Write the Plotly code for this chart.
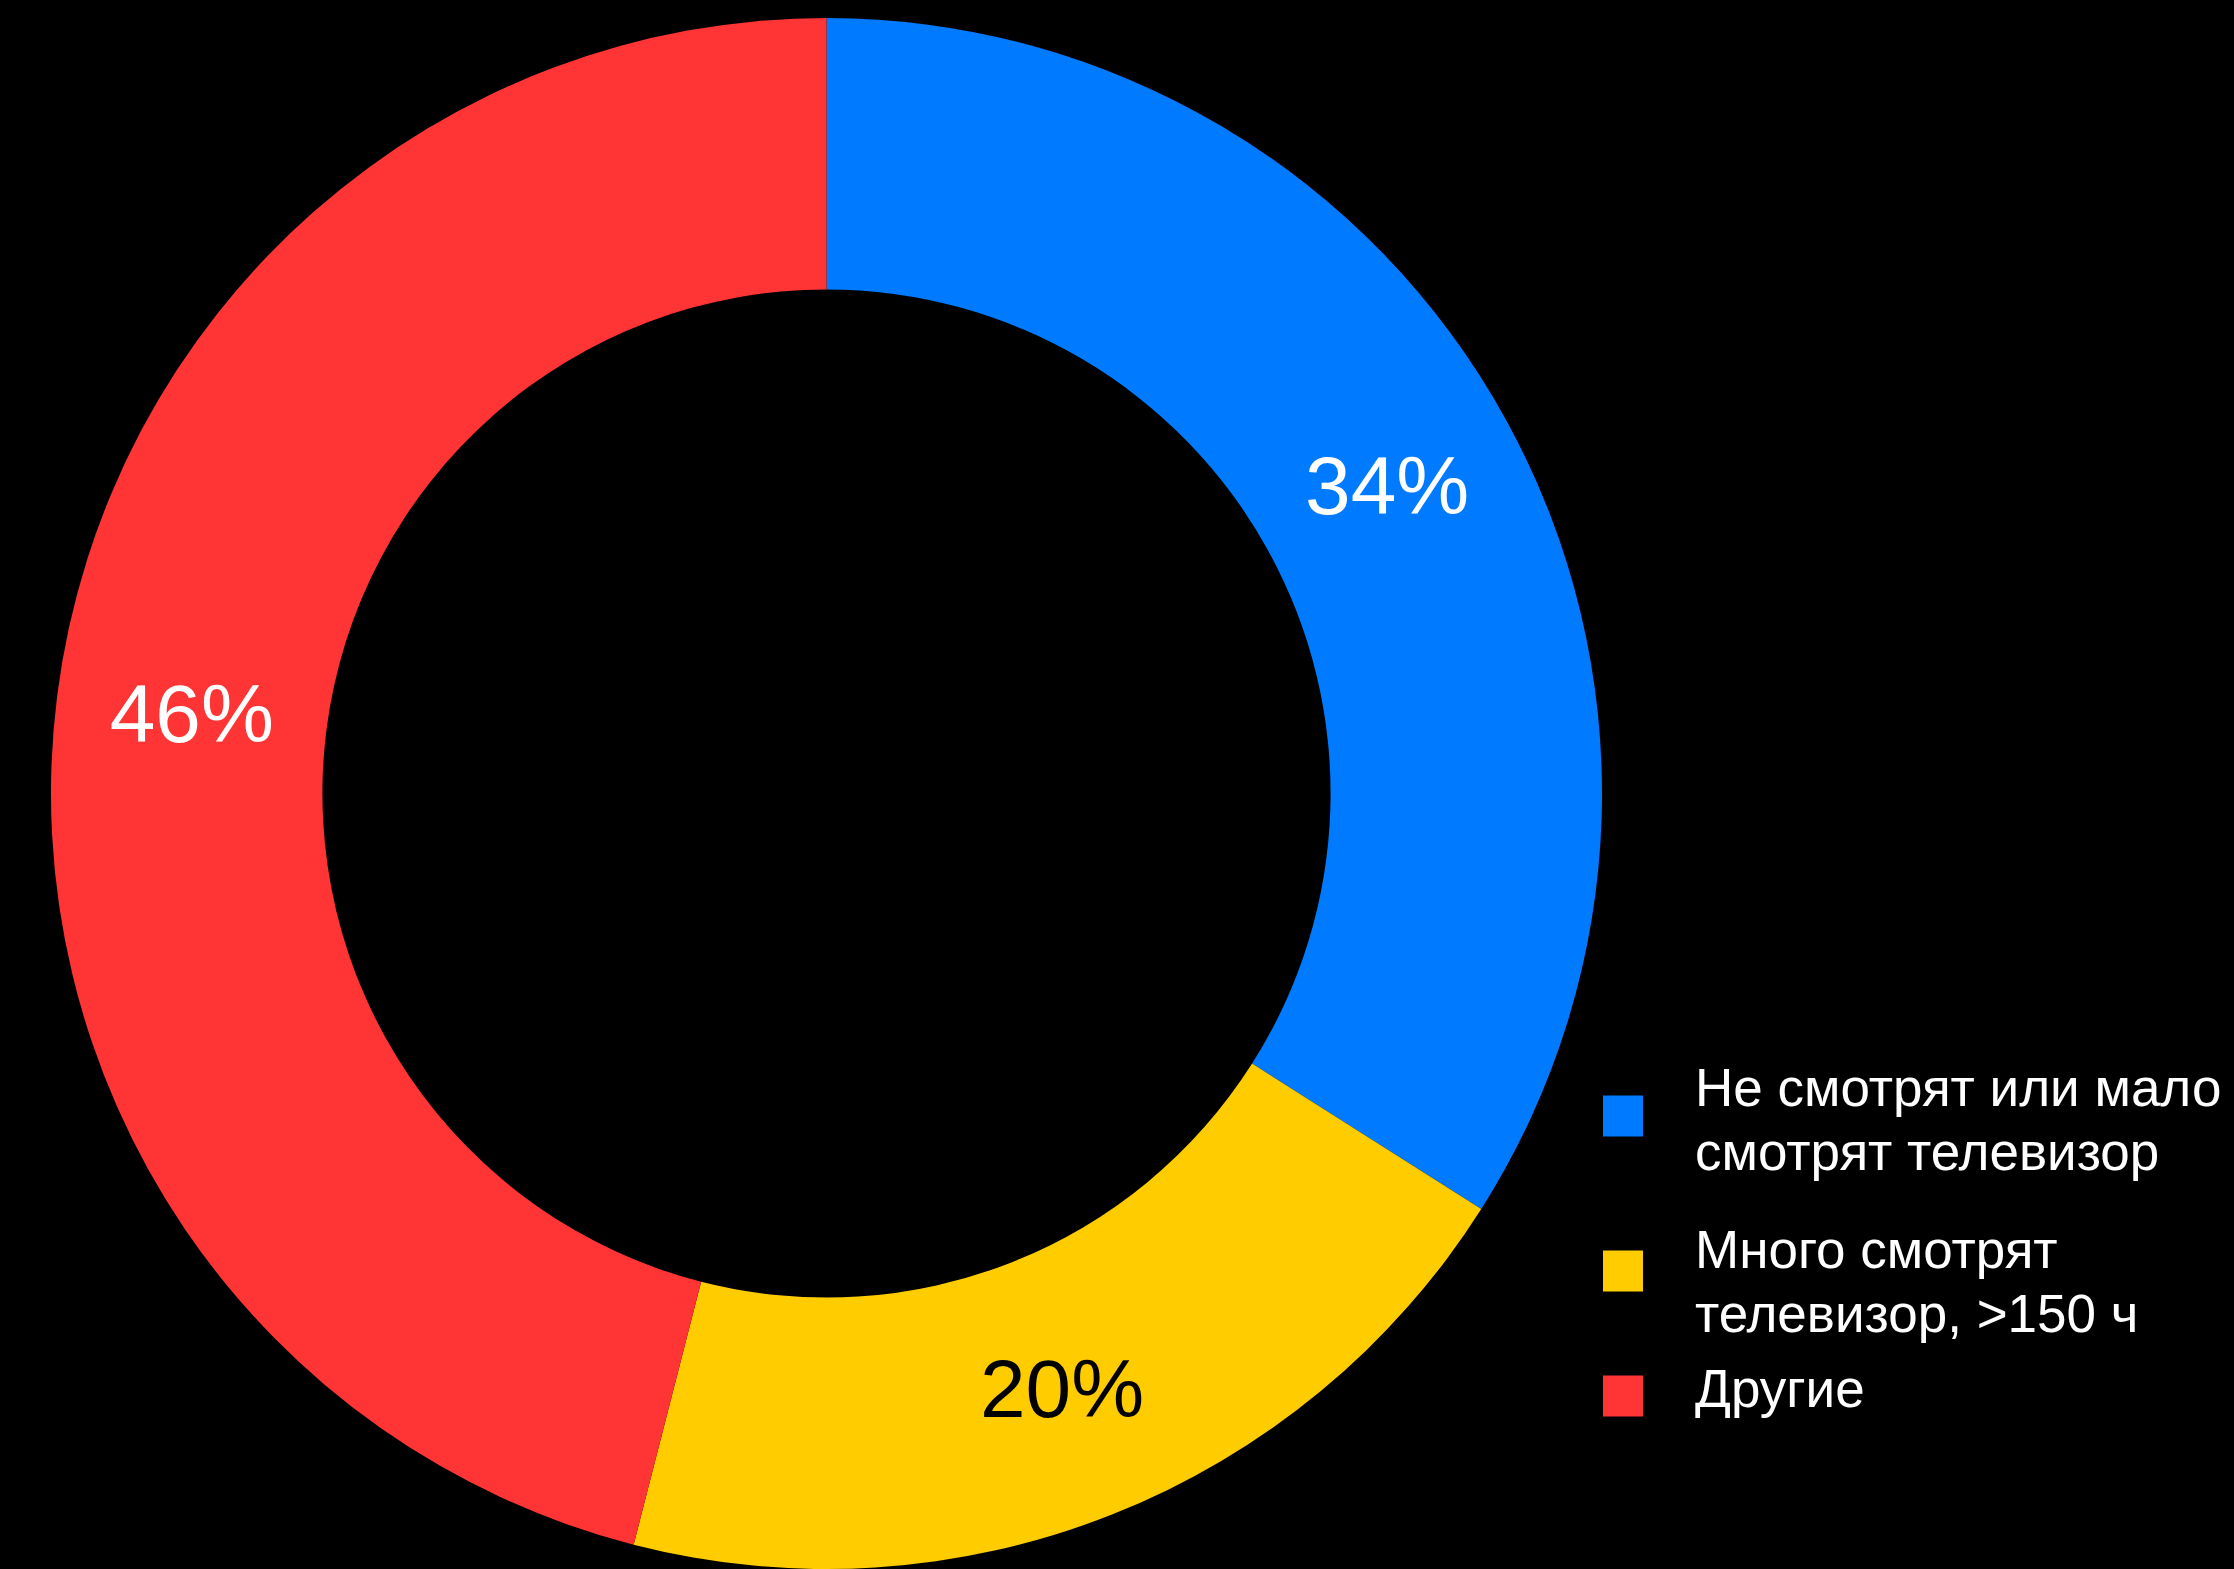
import plotly.graph_objects as go

# Survey shares, ordered clockwise from 12 o'clock
labels = ["Не смотрят или мало<br>смотрят телевизор",
          "Много смотрят<br>телевизор, >150 ч",
          "Другие"]
values = [34, 20, 46]
colors = ["#007AFF", "#FFCC00", "#FF3535"]
text_colors = ["#FFFFFF", "#000000", "#FFFFFF"]

W, H = 2234, 1569
FONT = "Liberation Sans, Arial, sans-serif"

fig = go.Figure(go.Pie(
    labels=labels,
    values=values,
    hole=0.65,
    sort=False,
    direction="clockwise",
    rotation=0,
    marker=dict(colors=colors, line=dict(width=0)),
    texttemplate="%{percent:.0%}",
    textposition="inside",
    insidetextorientation="horizontal",
    insidetextfont=dict(family=FONT, size=82, color=text_colors),
    domain=dict(x=[0, 1653 / W], y=[0, 1 - 18 / H]),
    showlegend=False,
))

# Hand-built legend: coloured swatch + label lines beside it
swatch_centres = [1116, 1271, 1396]      # pixel y of each swatch centre
first_line_y = [1087, 1249, 1388]        # pixel y of each label's first line
LINE_STEP = 64                           # pixel distance between label lines
shapes, annotations = [], []
for lab, col, sy, ty in zip(labels, colors, swatch_centres, first_line_y):
    shapes.append(dict(
        type="rect", xref="paper", yref="paper",
        x0=1603 / W, x1=1643 / W,
        y0=1 - (sy + 20.5) / H, y1=1 - (sy - 20.5) / H,
        fillcolor=col, line=dict(width=0),
    ))
    for i, line in enumerate(lab.split("<br>")):
        annotations.append(dict(
            text=line, xref="paper", yref="paper",
            x=1693 / W, y=1 - (ty + i * LINE_STEP) / H,
            xanchor="left", yanchor="middle", align="left",
            showarrow=False,
            font=dict(family=FONT, size=53, color="#FFFFFF"),
        ))

fig.update_layout(
    width=W, height=H,
    margin=dict(l=0, r=0, t=0, b=0),
    paper_bgcolor="#000000",
    plot_bgcolor="#000000",
    shapes=shapes,
    annotations=annotations,
)

fig.write_html("out.html")
